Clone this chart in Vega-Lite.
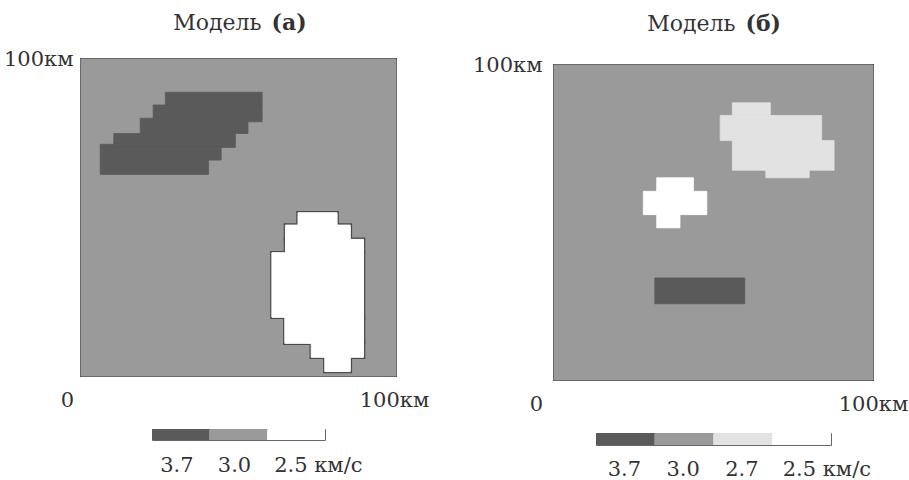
{
  "$schema": "https://vega.github.io/schema/vega-lite/v6.json",
  "padding": {"left": 2, "top": 4, "right": 2, "bottom": 1},
  "background": "#ffffff",
  "config": {
    "font": "DejaVu Serif",
    "view": {"stroke": "#4a4a4a", "strokeWidth": 2},
    "axis": {"labelFont": "DejaVu Serif", "labelColor": "#333333", "labelFontSize": 21, "domain": false, "ticks": false, "grid": false},
    "text": {"font": "DejaVu Serif", "color": "#333333", "fontSize": 22}
  },
  "datasets": {
    "a": [
      {"x": 0, "x2": 100, "y": 0, "y2": 100, "v": "3.0"},
      {"x": 26.8, "x2": 57.5, "y": 85.5, "y2": 89.5, "v": "3.7"},
      {"x": 22.9, "x2": 57.5, "y": 81.3, "y2": 85.5, "v": "3.7"},
      {"x": 18.8, "x2": 57.5, "y": 80.2, "y2": 81.3, "v": "3.7"},
      {"x": 18.8, "x2": 53.0, "y": 76.5, "y2": 80.2, "v": "3.7"},
      {"x": 10.4, "x2": 49.0, "y": 73.1, "y2": 76.5, "v": "3.7"},
      {"x": 6.1, "x2": 49.0, "y": 72.1, "y2": 73.1, "v": "3.7"},
      {"x": 6.1, "x2": 44.5, "y": 68.1, "y2": 72.1, "v": "3.7"},
      {"x": 6.1, "x2": 40.5, "y": 63.6, "y2": 68.1, "v": "3.7"},
      {"x": 68.9, "x2": 81.3, "y": 47.6, "y2": 51.5, "v": "2.5"},
      {"x": 64.9, "x2": 85.5, "y": 43.1, "y2": 47.6, "v": "2.5"},
      {"x": 64.9, "x2": 89.7, "y": 38.9, "y2": 43.1, "v": "2.5"},
      {"x": 60.6, "x2": 89.7, "y": 18.5, "y2": 38.9, "v": "2.5"},
      {"x": 64.7, "x2": 89.7, "y": 10.3, "y2": 18.5, "v": "2.5"},
      {"x": 73.1, "x2": 89.7, "y": 5.9, "y2": 10.3, "v": "2.5"},
      {"x": 77.4, "x2": 85.5, "y": 1.4, "y2": 5.9, "v": "2.5"}
    ],
    "b": [
      {"x": 0, "x2": 100, "y": 0, "y2": 100, "v": "3.0"},
      {"x": 55.9, "x2": 67.8, "y": 84.0, "y2": 88.0, "v": "2.7"},
      {"x": 52.1, "x2": 83.9, "y": 76.0, "y2": 84.0, "v": "2.7"},
      {"x": 55.9, "x2": 87.8, "y": 66.6, "y2": 76.0, "v": "2.7"},
      {"x": 66.4, "x2": 80.0, "y": 64.2, "y2": 66.6, "v": "2.7"},
      {"x": 32.2, "x2": 43.7, "y": 59.9, "y2": 64.2, "v": "2.5"},
      {"x": 28.0, "x2": 47.9, "y": 52.5, "y2": 59.9, "v": "2.5"},
      {"x": 32.2, "x2": 39.5, "y": 48.3, "y2": 52.5, "v": "2.5"},
      {"x": 31.6, "x2": 59.8, "y": 24.2, "y2": 32.4, "v": "3.7"}
    ],
    "la": [{"v": "3.7"}, {"v": "3.0"}, {"v": "2.5"}],
    "lb": [{"v": "3.7"}, {"v": "3.0"}, {"v": "2.7"}, {"v": "2.5"}]
  },
  "spacing": 41,
  "hconcat": [
    {
      "bounds": "flush",
      "center": true,
      "spacing": 53,
      "vconcat": [
        {
          "width": 315,
          "height": 2,
          "view": {"stroke": null},
          "data": {"values": [{}]},
          "layer": [
            {"mark": {"type": "text", "text": "Модель", "align": "right", "baseline": "middle", "dx": 23, "dy": 18}, "encoding": {}},
            {"mark": {"type": "text", "text": "(а)", "align": "left", "baseline": "middle", "dx": 33, "dy": 18, "fontWeight": "bold"}, "encoding": {}}
          ]
        },
        {
          "width": 315,
          "height": 317,
          "data": {"name": "a"},
          "layer": [
            {
              "mark": {"type": "rect", "strokeWidth": 0.8},
              "encoding": {
                "x": {"field": "x", "type": "quantitative", "scale": {"domain": [0, 100], "nice": false, "zero": false},
                  "axis": {"title": null, "values": [0, 100], "labelExpr": "datum.value == 0 ? '0' : '100км'", "labelFlush": false, "labelPadding": 13,
                    "labelOffset": {"condition": {"test": "datum.value == 0", "value": -14}, "value": -2}}},
                "x2": {"field": "x2"},
                "y": {"field": "y", "type": "quantitative", "scale": {"domain": [0, 100], "nice": false, "zero": false},
                  "axis": {"title": null, "values": [100], "labelExpr": "'100км'", "labelFlush": false, "labelPadding": 8, "labelBaseline": "middle"}},
                "y2": {"field": "y2"},
                "color": {"field": "v", "type": "nominal", "scale": {"domain": ["3.7", "3.0", "2.7", "2.5"], "range": ["#5a5a5a", "#9a9a9a", "#e2e2e2", "#ffffff"]}, "legend": null},
                "stroke": {"field": "v", "type": "nominal", "scale": {"domain": ["3.7", "3.0", "2.7", "2.5"], "range": ["#5a5a5a", "#9a9a9a", "#e2e2e2", "#ffffff"]}, "legend": null}
              }
            },
            {
              "transform": [{"filter": "datum.v == '2.5'"}],
              "mark": {"type": "rect", "filled": false, "stroke": "#4a4a4a", "strokeWidth": 3.5},
              "encoding": {
                "x": {"field": "x", "type": "quantitative"},
                "x2": {"field": "x2"},
                "y": {"field": "y", "type": "quantitative"},
                "y2": {"field": "y2"}
              }
            },
            {
              "transform": [{"filter": "datum.v == '2.5'"}],
              "mark": {"type": "rect", "strokeWidth": 1},
              "encoding": {
                "x": {"field": "x", "type": "quantitative"},
                "x2": {"field": "x2"},
                "y": {"field": "y", "type": "quantitative"},
                "y2": {"field": "y2"},
                "color": {"field": "v", "type": "nominal", "legend": null},
                "stroke": {"field": "v", "type": "nominal", "legend": null}
              }
            }
          ]
        },
        {
          "width": 173,
          "height": 11,
          "view": {"stroke": "#666666", "strokeWidth": 1},
          "data": {"name": "la"},
          "mark": {"type": "rect"},
          "encoding": {
            "x": {"field": "v", "type": "nominal", "sort": null, "scale": {"paddingInner": 0, "paddingOuter": 0},
              "axis": {"title": null, "orient": "bottom", "labelAngle": 0, "labelPadding": 14,
                "labelExpr": "datum.label == '2.5' ? '2.5  км/с' : datum.label",
                "labelAlign": {"condition": {"test": "datum.value == '2.5'", "value": "left"}, "value": "center"},
                "labelOffset": {"condition": {"test": "datum.value == '2.5'", "value": -22}, "value": -4}}},
            "color": {"field": "v", "type": "nominal", "scale": {"domain": ["3.7", "3.0", "2.7", "2.5"], "range": ["#5a5a5a", "#9a9a9a", "#e2e2e2", "#ffffff"]}, "legend": null}
          }
        }
      ]
    },
    {
      "bounds": "flush",
      "center": true,
      "spacing": 53,
      "vconcat": [
        {
          "width": 319,
          "height": 8,
          "view": {"stroke": null},
          "data": {"values": [{}]},
          "layer": [
            {"mark": {"type": "text", "text": "Модель", "align": "right", "baseline": "middle", "dx": 22, "dy": 16}, "encoding": {}},
            {"mark": {"type": "text", "text": "(б)", "align": "left", "baseline": "middle", "dx": 32, "dy": 16, "fontWeight": "bold"}, "encoding": {}}
          ]
        },
        {
          "width": 319,
          "height": 315,
          "data": {"name": "b"},
          "layer": [
            {
              "mark": {"type": "rect", "strokeWidth": 0.8},
              "encoding": {
                "x": {"field": "x", "type": "quantitative", "scale": {"domain": [0, 100], "nice": false, "zero": false},
                  "axis": {"title": null, "values": [0, 100], "labelExpr": "datum.value == 0 ? '0' : '100км'", "labelFlush": false, "labelPadding": 13,
                    "labelOffset": {"condition": {"test": "datum.value == 0", "value": -18}, "value": 0}}},
                "x2": {"field": "x2"},
                "y": {"field": "y", "type": "quantitative", "scale": {"domain": [0, 100], "nice": false, "zero": false},
                  "axis": {"title": null, "values": [100], "labelExpr": "'100км'", "labelFlush": false, "labelPadding": 12, "labelBaseline": "middle"}},
                "y2": {"field": "y2"},
                "color": {"field": "v", "type": "nominal", "scale": {"domain": ["3.7", "3.0", "2.7", "2.5"], "range": ["#5a5a5a", "#9a9a9a", "#e2e2e2", "#ffffff"]}, "legend": null},
                "stroke": {"field": "v", "type": "nominal", "scale": {"domain": ["3.7", "3.0", "2.7", "2.5"], "range": ["#5a5a5a", "#9a9a9a", "#e2e2e2", "#ffffff"]}, "legend": null}
              }
            }
          ]
        },
        {
          "width": 235,
          "height": 12,
          "view": {"stroke": "#666666", "strokeWidth": 1},
          "data": {"name": "lb"},
          "mark": {"type": "rect"},
          "encoding": {
            "x": {"field": "v", "type": "nominal", "sort": null, "scale": {"paddingInner": 0, "paddingOuter": 0},
              "axis": {"title": null, "orient": "bottom", "labelAngle": 0, "labelPadding": 13,
                "labelExpr": "datum.label == '2.5' ? '2.5  км/с' : datum.label",
                "labelAlign": {"condition": {"test": "datum.value == '2.5'", "value": "left"}, "value": "center"},
                "labelOffset": {"condition": {"test": "datum.value == '2.5'", "value": -19}, "value": -1}}},
            "color": {"field": "v", "type": "nominal", "scale": {"domain": ["3.7", "3.0", "2.7", "2.5"], "range": ["#5a5a5a", "#9a9a9a", "#e2e2e2", "#ffffff"]}, "legend": null}
          }
        }
      ]
    }
  ]
}
